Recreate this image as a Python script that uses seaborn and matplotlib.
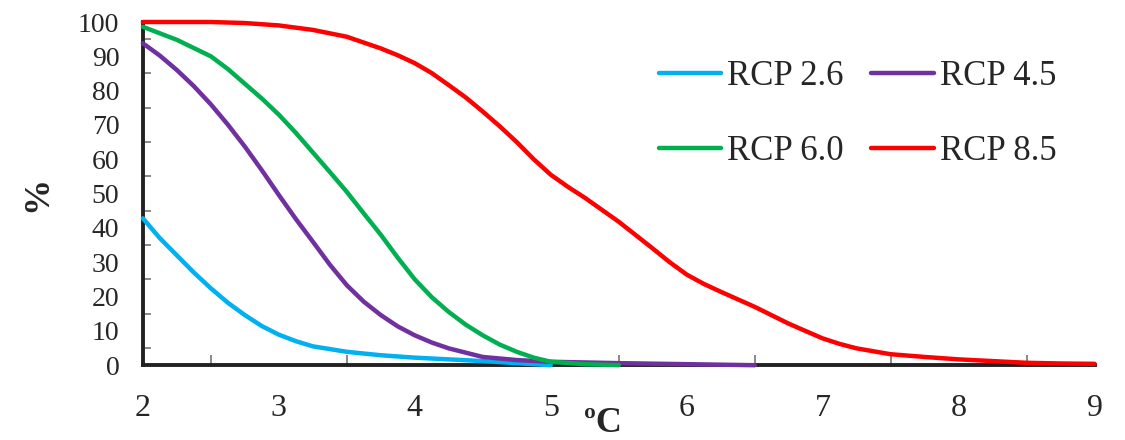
import matplotlib
matplotlib.use('Agg')
import matplotlib.pyplot as plt
import seaborn as sns
import pandas as pd
from matplotlib.ticker import MultipleLocator

# values (temperature in degC vs %)
x_26 = [2, 2.125, 2.25, 2.375, 2.5, 2.625, 2.75, 2.875, 3, 3.125, 3.25, 3.5, 3.75, 4, 4.25, 4.5, 4.75, 5]
y_26 = [42.8, 37, 32, 27, 22.4, 18.2, 14.6, 11.4, 8.9, 7, 5.5, 3.9, 2.9, 2.2, 1.7, 1.2, 0.6, 0]

x_45 = [2, 2.125, 2.25, 2.375, 2.5, 2.625, 2.75, 2.875, 3, 3.125, 3.25, 3.375,
        3.5, 3.625, 3.75, 3.875, 4, 4.125, 4.25, 4.5, 4.75, 5, 5.5, 6, 6.5]
y_45 = [93.8, 90.2, 86, 81.3, 76, 70.1, 63.7, 56.8, 49.6, 42.6, 36, 29.3,
        23.3, 18.5, 14.6, 11.3, 8.7, 6.6, 4.9, 2.4, 1.5, 1, 0.6, 0.3, 0]

x_60 = [2, 2.25, 2.5, 2.625, 2.75, 2.875, 3, 3.125, 3.25, 3.375, 3.5, 3.625,
        3.75, 3.875, 4, 4.125, 4.25, 4.375, 4.5, 4.625, 4.75, 4.875, 5, 5.25, 5.5]
y_60 = [98.6, 94.8, 90, 86.3, 82, 77.7, 73, 67.7, 62, 56.3, 50.5, 44.2,
        38, 31.3, 25, 19.8, 15.5, 11.8, 8.7, 6, 3.9, 2.2, 1, 0.3, 0]

x_85 = [2, 2.5, 2.75, 3, 3.25, 3.5, 3.75, 3.875, 4, 4.125, 4.25, 4.375, 4.5, 4.625,
        4.75, 4.875, 5, 5.125, 5.25, 5.5, 5.75, 5.875, 6, 6.125, 6.25, 6.5,
        6.75, 7, 7.125, 7.25, 7.5, 7.75, 8, 8.25, 8.5, 8.75, 9]
y_85 = [100, 100, 99.7, 99, 97.7, 95.7, 92.3, 90.3, 88, 85.1, 81.6, 78, 73.9, 69.6,
        65, 60, 55.5, 52, 48.8, 41.8, 34, 30, 26.4, 23.7, 21.4, 17,
        12.1, 7.8, 6.2, 4.9, 3.2, 2.4, 1.7, 1.2, 0.7, 0.5, 0.4]

labels = ['RCP 2.6', 'RCP 4.5', 'RCP 6.0', 'RCP 8.5']
colors = ['#00B0F0', '#7030A0', '#00B050', '#FF0000']
series = [(x_26, y_26), (x_45, y_45), (x_60, y_60), (x_85, y_85)]

sns.set_style('white')
plt.rcParams['font.family'] = ['Liberation Serif', 'DejaVu Serif']

fig, ax = plt.subplots(figsize=(11.25, 4.4), dpi=100)
fig.subplots_adjust(left=0.127, right=0.973, bottom=0.17, top=0.95)

handles = {}
for (xs, ys), lab, col in zip(series, labels, colors):
    df = pd.DataFrame({'t': xs, 'p': ys})
    sns.lineplot(data=df, x='t', y='p', color=col, linewidth=3.2, ax=ax,
                 label=lab, zorder=3, clip_on=False,
                 solid_joinstyle='round', solid_capstyle='round')
    handles[lab] = ax.lines[-1]

ax.set_xlim(2, 9)
ax.set_ylim(0, 100)
ax.xaxis.set_major_locator(MultipleLocator(1))
ax.xaxis.set_minor_locator(MultipleLocator(0.5))
ax.yaxis.set_major_locator(MultipleLocator(10))
ax.yaxis.set_minor_locator(MultipleLocator(5))

for side in ['top', 'right']:
    ax.spines[side].set_visible(False)
for side in ['left', 'bottom']:
    ax.spines[side].set_color('#222222')
    ax.spines[side].set_linewidth(2.8)

ax.tick_params(axis='x', which='major', direction='inout', length=14, width=1.3,
               color='#808080', labelsize=23, pad=14)
ax.tick_params(axis='x', which='minor', direction='in', length=7, width=1.3,
               color='#808080', bottom=True)
ax.tick_params(axis='y', which='major', direction='inout', length=12, width=1.3,
               color='#808080', labelsize=20, pad=11)
ax.tick_params(axis='y', which='minor', direction='in', length=6, width=1.3,
               color='#808080', left=True)

ax.set_ylabel('%', fontsize=26, fontweight='bold')
ax.yaxis.set_label_coords(-0.093, 0.5)
ax.set_xlabel('')
fig.text(0.536, 0.0, 'ºC', fontsize=26, fontweight='bold', ha='center', va='bottom')

order = ['RCP 2.6', 'RCP 6.0', 'RCP 4.5', 'RCP 8.5']
ax.legend([handles[k] for k in order], order, ncol=2, frameon=False,
          loc='upper left', bbox_to_anchor=(0.509, 0.98),
          prop={'size': 25},
          handlelength=1.8, handletextpad=0.18, columnspacing=0.78,
          labelspacing=1.22)

plt.savefig('out.png', dpi=100)
